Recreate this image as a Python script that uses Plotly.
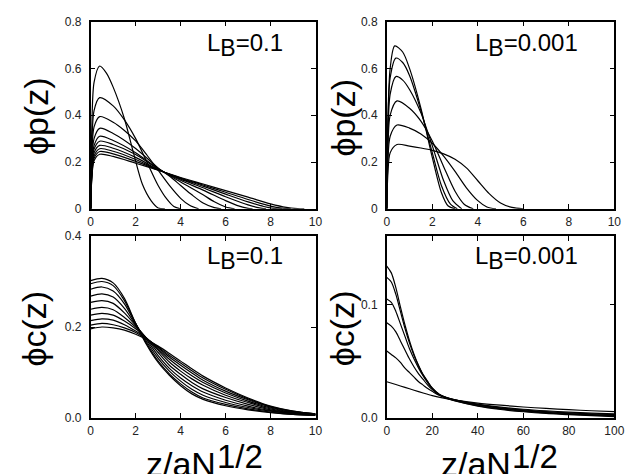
import plotly.graph_objects as go

# ---------------- data: top-left  phi_p, L_B = 0.1 ----------------
tl_z = [
    [0, 0.05, 0.15, 0.4, 0.7, 1.0, 1.5, 1.9, 2.3, 2.7, 3.0, 3.3],
    [0, 0.05, 0.15, 0.4, 1, 1.5, 2, 2.5, 3, 3.4, 3.7, 4.0],
    [0, 0.05, 0.15, 0.4, 1, 1.5, 2, 2.5, 3, 3.5, 4, 4.4, 4.8],
    [0, 0.05, 0.15, 0.4, 1, 2, 3, 3.5, 4, 4.5, 5, 5.5, 5.8],
    [0, 0.05, 0.15, 0.4, 1, 2, 3, 4, 5, 5.5, 6, 6.4],
    [0, 0.05, 0.15, 0.4, 1, 2, 3, 4, 5, 6, 6.5, 7, 7.2],
    [0, 0.05, 0.15, 0.4, 1, 2, 3, 4, 5, 6, 7, 7.5, 7.8],
    [0, 0.05, 0.15, 0.4, 1, 2, 3, 4, 5, 6, 7, 7.7, 8.2, 8.5],
    [0, 0.05, 0.15, 0.4, 1, 2, 3, 4, 5, 6, 7, 8, 8.5, 8.9],
    [0, 0.05, 0.15, 0.4, 1, 2, 3, 4, 5, 6, 7, 8, 8.7, 9.2, 9.5],
]
tl_phi = [
    [0, 0.34, 0.54, 0.61, 0.58, 0.52, 0.385, 0.24, 0.105, 0.033, 0.004, 0],
    [0, 0.26, 0.42, 0.475, 0.44, 0.38, 0.30, 0.20, 0.10, 0.04, 0.01, 0],
    [0, 0.22, 0.35, 0.394, 0.37, 0.335, 0.29, 0.23, 0.165, 0.10, 0.045, 0.015, 0],
    [0, 0.19, 0.30, 0.344, 0.322, 0.258, 0.175, 0.14, 0.10, 0.06, 0.025, 0.005, 0],
    [0, 0.17, 0.27, 0.31, 0.292, 0.240, 0.172, 0.115, 0.06, 0.03, 0.008, 0],
    [0, 0.16, 0.255, 0.289, 0.275, 0.232, 0.17, 0.122, 0.08, 0.035, 0.015, 0.002, 0],
    [0, 0.15, 0.24, 0.271, 0.259, 0.220, 0.168, 0.127, 0.09, 0.052, 0.017, 0.004, 0],
    [0, 0.14, 0.226, 0.257, 0.246, 0.211, 0.167, 0.13, 0.097, 0.063, 0.03, 0.01, 0.001, 0],
    [0, 0.135, 0.216, 0.245, 0.235, 0.203, 0.166, 0.132, 0.102, 0.071, 0.04, 0.012, 0.003, 0],
    [0, 0.128, 0.205, 0.233, 0.224, 0.195, 0.165, 0.134, 0.106, 0.078, 0.05, 0.021, 0.006, 0.001, 0],
]

# ---------------- data: top-right  phi_p, L_B = 0.001 ----------------
tr_z = [
    [0, 0.05, 0.15, 0.35, 0.7, 1, 1.5, 2, 2.4, 2.7, 3.0],
    [0, 0.05, 0.15, 0.4, 0.7, 1, 1.5, 2, 2.4, 2.8, 3.1],
    [0, 0.05, 0.15, 0.4, 0.7, 1, 1.5, 2, 2.5, 2.9, 3.3],
    [0, 0.05, 0.15, 0.45, 1, 1.5, 2, 2.5, 3, 3.4, 3.8],
    [0, 0.05, 0.15, 0.45, 1, 1.5, 2, 2.5, 3, 3.5, 4, 4.4, 4.8],
    [0, 0.05, 0.15, 0.45, 1, 1.5, 2, 2.5, 3, 3.5, 4, 4.5, 5, 5.5, 6],
]
tr_phi = [
    [0, 0.38, 0.60, 0.696, 0.67, 0.60, 0.43, 0.22, 0.07, 0.012, 0],
    [0, 0.35, 0.56, 0.644, 0.625, 0.57, 0.42, 0.24, 0.10, 0.02, 0],
    [0, 0.31, 0.49, 0.565, 0.55, 0.51, 0.41, 0.27, 0.12, 0.035, 0],
    [0, 0.25, 0.40, 0.461, 0.43, 0.375, 0.29, 0.18, 0.075, 0.02, 0],
    [0, 0.20, 0.31, 0.358, 0.345, 0.32, 0.28, 0.225, 0.16, 0.09, 0.035, 0.008, 0],
    [0, 0.15, 0.24, 0.275, 0.268, 0.26, 0.25, 0.235, 0.212, 0.175, 0.12, 0.065, 0.025, 0.006, 0],
]

# ---------------- data: bottom-left  phi_c, L_B = 0.1 ----------------
bl_z = [0, 0.5, 1, 1.5, 2, 2.5, 3, 3.5, 4, 4.5, 5, 6, 7, 8, 9, 10]
bl_phi = [
    [0.302, 0.307, 0.297, 0.263, 0.208, 0.160, 0.122, 0.094, 0.071, 0.053, 0.041, 0.027, 0.018, 0.012, 0.008, 0.006],
    [0.295, 0.300, 0.291, 0.258, 0.208, 0.163, 0.125, 0.097, 0.075, 0.057, 0.044, 0.030, 0.020, 0.013, 0.008, 0.006],
    [0.283, 0.288, 0.279, 0.251, 0.207, 0.167, 0.131, 0.103, 0.081, 0.063, 0.050, 0.034, 0.023, 0.015, 0.009, 0.007],
    [0.268, 0.273, 0.266, 0.241, 0.205, 0.171, 0.137, 0.109, 0.088, 0.071, 0.057, 0.039, 0.026, 0.016, 0.010, 0.007],
    [0.254, 0.258, 0.252, 0.231, 0.203, 0.174, 0.144, 0.116, 0.096, 0.078, 0.064, 0.045, 0.030, 0.018, 0.011, 0.007],
    [0.239, 0.243, 0.238, 0.221, 0.200, 0.175, 0.149, 0.123, 0.103, 0.086, 0.072, 0.050, 0.034, 0.020, 0.012, 0.008],
    [0.226, 0.230, 0.226, 0.213, 0.196, 0.175, 0.152, 0.129, 0.110, 0.093, 0.078, 0.055, 0.037, 0.022, 0.013, 0.008],
    [0.214, 0.218, 0.215, 0.205, 0.191, 0.175, 0.155, 0.134, 0.116, 0.099, 0.083, 0.059, 0.040, 0.024, 0.014, 0.009],
    [0.204, 0.208, 0.205, 0.198, 0.188, 0.173, 0.156, 0.138, 0.121, 0.104, 0.088, 0.063, 0.042, 0.025, 0.015, 0.009],
    [0.196, 0.200, 0.198, 0.193, 0.184, 0.172, 0.158, 0.142, 0.125, 0.108, 0.092, 0.066, 0.044, 0.026, 0.015, 0.009],
]

# ---------------- data: bottom-right  phi_c, L_B = 0.001 ----------------
br_z_a = [0, 2, 4, 6, 8, 10, 12, 14, 16, 18, 20, 23, 26, 30, 40, 50, 60, 70, 80, 90, 100]
br_z_b = [0, 4, 8, 12, 16, 20, 25, 30, 40, 50, 60, 70, 80, 90, 100]
br_phi = [
    [0.134, 0.128, 0.115, 0.098, 0.082, 0.068, 0.056, 0.046, 0.038, 0.032, 0.026, 0.0205, 0.0175, 0.015, 0.0105, 0.0075, 0.0055, 0.004, 0.003, 0.002, 0.0012],
    [0.124, 0.120, 0.109, 0.094, 0.079, 0.066, 0.055, 0.046, 0.038, 0.032, 0.0265, 0.021, 0.018, 0.0153, 0.0108, 0.008, 0.006, 0.0045, 0.0034, 0.0025, 0.0018],
    [0.105, 0.102, 0.094, 0.083, 0.072, 0.061, 0.052, 0.044, 0.037, 0.031, 0.026, 0.021, 0.0182, 0.0157, 0.0113, 0.0085, 0.0065, 0.005, 0.0039, 0.003, 0.0023],
    [0.084, 0.081, 0.076, 0.068, 0.060, 0.052, 0.045, 0.039, 0.034, 0.029, 0.025, 0.0205, 0.0182, 0.016, 0.0118, 0.009, 0.0071, 0.0056, 0.0045, 0.0036, 0.0029],
    [0.059, 0.056, 0.053, 0.049, 0.044, 0.040, 0.036, 0.032, 0.029, 0.026, 0.0235, 0.020, 0.018, 0.016, 0.0122, 0.0096, 0.0077, 0.0063, 0.0052, 0.0043, 0.0036],
    [0.032, 0.0295, 0.027, 0.0245, 0.022, 0.0197, 0.0175, 0.0158, 0.0132, 0.0113, 0.0097, 0.0084, 0.0073, 0.0064, 0.0057],
]

# tick labels
x_ticks_small = [0, 2, 4, 6, 8, 10]
x_ticks_big = [0, 20, 40, 60, 80, 100]
yp_ticks = [0, 0.2, 0.4, 0.6, 0.8]
yp_text = ["0", "0.2", "0.4", "0.6", "0.8"]
ycl_ticks = [0, 0.2, 0.4]
ycl_text = ["0.0", "0.2", "0.4"]
ycr_ticks = [0, 0.1]
ycr_text = ["0.0", "0.1"]

W, H = 641, 474
FONT = "Liberation Sans, Arial, Helvetica, sans-serif"
LINE = dict(color="black", width=1.2, shape="spline", smoothing=0.8)

fig = go.Figure()


def add(xs, ys, xa, ya):
    fig.add_trace(go.Scatter(x=xs, y=ys, mode="lines", line=LINE, xaxis=xa, yaxis=ya,
                             hoverinfo="skip", showlegend=False))


for zz, pp in zip(tl_z, tl_phi):
    add(zz, pp, "x", "y")
for zz, pp in zip(tr_z, tr_phi):
    add(zz, pp, "x2", "y2")
for pp in bl_phi:
    add(bl_z, pp, "x3", "y3")
for i, pp in enumerate(br_phi):
    add(br_z_a if i < 5 else br_z_b, pp, "x4", "y4")

xl = [89.5 / W, 319 / W]
xr = [391.7 / W, 624 / W]
yt = [1 - 208 / H, 1 - 15 / H]
yb = [1 - 423.5 / H, 1 - 236 / H]

ax_common = dict(showline=True, linecolor="black", linewidth=1.5, mirror="ticks",
                 ticks="inside", ticklen=5, tickwidth=1, tickcolor="black",
                 showgrid=False, zeroline=False,
                 tickfont=dict(family=FONT, size=12, color="#222"))


def xax(dom, rng, ticks, anchor):
    d = dict(ax_common)
    d.update(domain=dom, range=rng, tickvals=ticks, ticktext=[str(t) for t in ticks],
             anchor=anchor, ticklabelstandoff=1)
    return d


def yax(dom, rng, ticks, text, anchor):
    d = dict(ax_common)
    d.update(domain=dom, range=rng, tickvals=ticks, ticktext=text, anchor=anchor,
             ticklabelstandoff=5)
    return d


fig.update_layout(
    width=W, height=H,
    margin=dict(l=0, r=0, t=0, b=0),
    paper_bgcolor="white", plot_bgcolor="white",
    showlegend=False,
    xaxis=xax(xl, [0, 10], x_ticks_small, "y"),
    yaxis=yax(yt, [0, 0.8], yp_ticks, yp_text, "x"),
    xaxis2=xax(xr, [0, 10], x_ticks_small, "y2"),
    yaxis2=yax(yt, [0, 0.8], yp_ticks, yp_text, "x2"),
    xaxis3=xax(xl, [0, 10], x_ticks_small, "y3"),
    yaxis3=yax(yb, [0, 0.4], ycl_ticks, ycl_text, "x3"),
    xaxis4=xax(xr, [0, 100], x_ticks_big, "y4"),
    yaxis4=yax(yb, [0, 0.1605], ycr_ticks, ycr_text, "x4"),
)

BIG = 34
ann = []
# y titles
for (xc, yc, txt) in [(33, 112, "ϕp(z)"), (347, 114, "ϕp(z)"),
                      (32, 331, "ϕc(z)"), (346, 331, "ϕc(z)")]:
    ann.append(dict(x=xc / W, y=1 - yc / H, xref="paper", yref="paper", text=txt,
                    textangle=-90, showarrow=False, xanchor="center", yanchor="middle",
                    font=dict(family=FONT, size=BIG, color="black")))
# x titles: base text and raised exponent
for xj in [218, 520]:
    ann.append(dict(x=xj / W, y=0, xref="paper", yref="paper", text="z/aN",
                    showarrow=False, xanchor="right", yanchor="bottom", yshift=-18,
                    xshift=1, font=dict(family=FONT, size=BIG, color="black")))
    ann.append(dict(x=xj / W, y=0, xref="paper", yref="paper", text="1/2",
                    showarrow=False, xanchor="left", yanchor="bottom", yshift=-10,
                    xshift=-2, font=dict(family=FONT, size=33, color="black")))
# L_B labels
for (xl0, yc, val) in [(206, 39, "0.1"), (480, 39, "0.001"), (206, 259, "0.1"), (480, 259, "0.001")]:
    ann.append(dict(x=xl0 / W, y=1 - yc / H, xref="paper", yref="paper",
                    text="L<sub><span style='font-size:23px'>B</span></sub>=" + val,
                    showarrow=False, xanchor="left", yanchor="middle",
                    font=dict(family=FONT, size=24, color="black")))
fig.update_layout(annotations=ann)

fig.write_html("out.html", config={"displayModeBar": False},
               post_script="document.body.style.margin='0px';")
